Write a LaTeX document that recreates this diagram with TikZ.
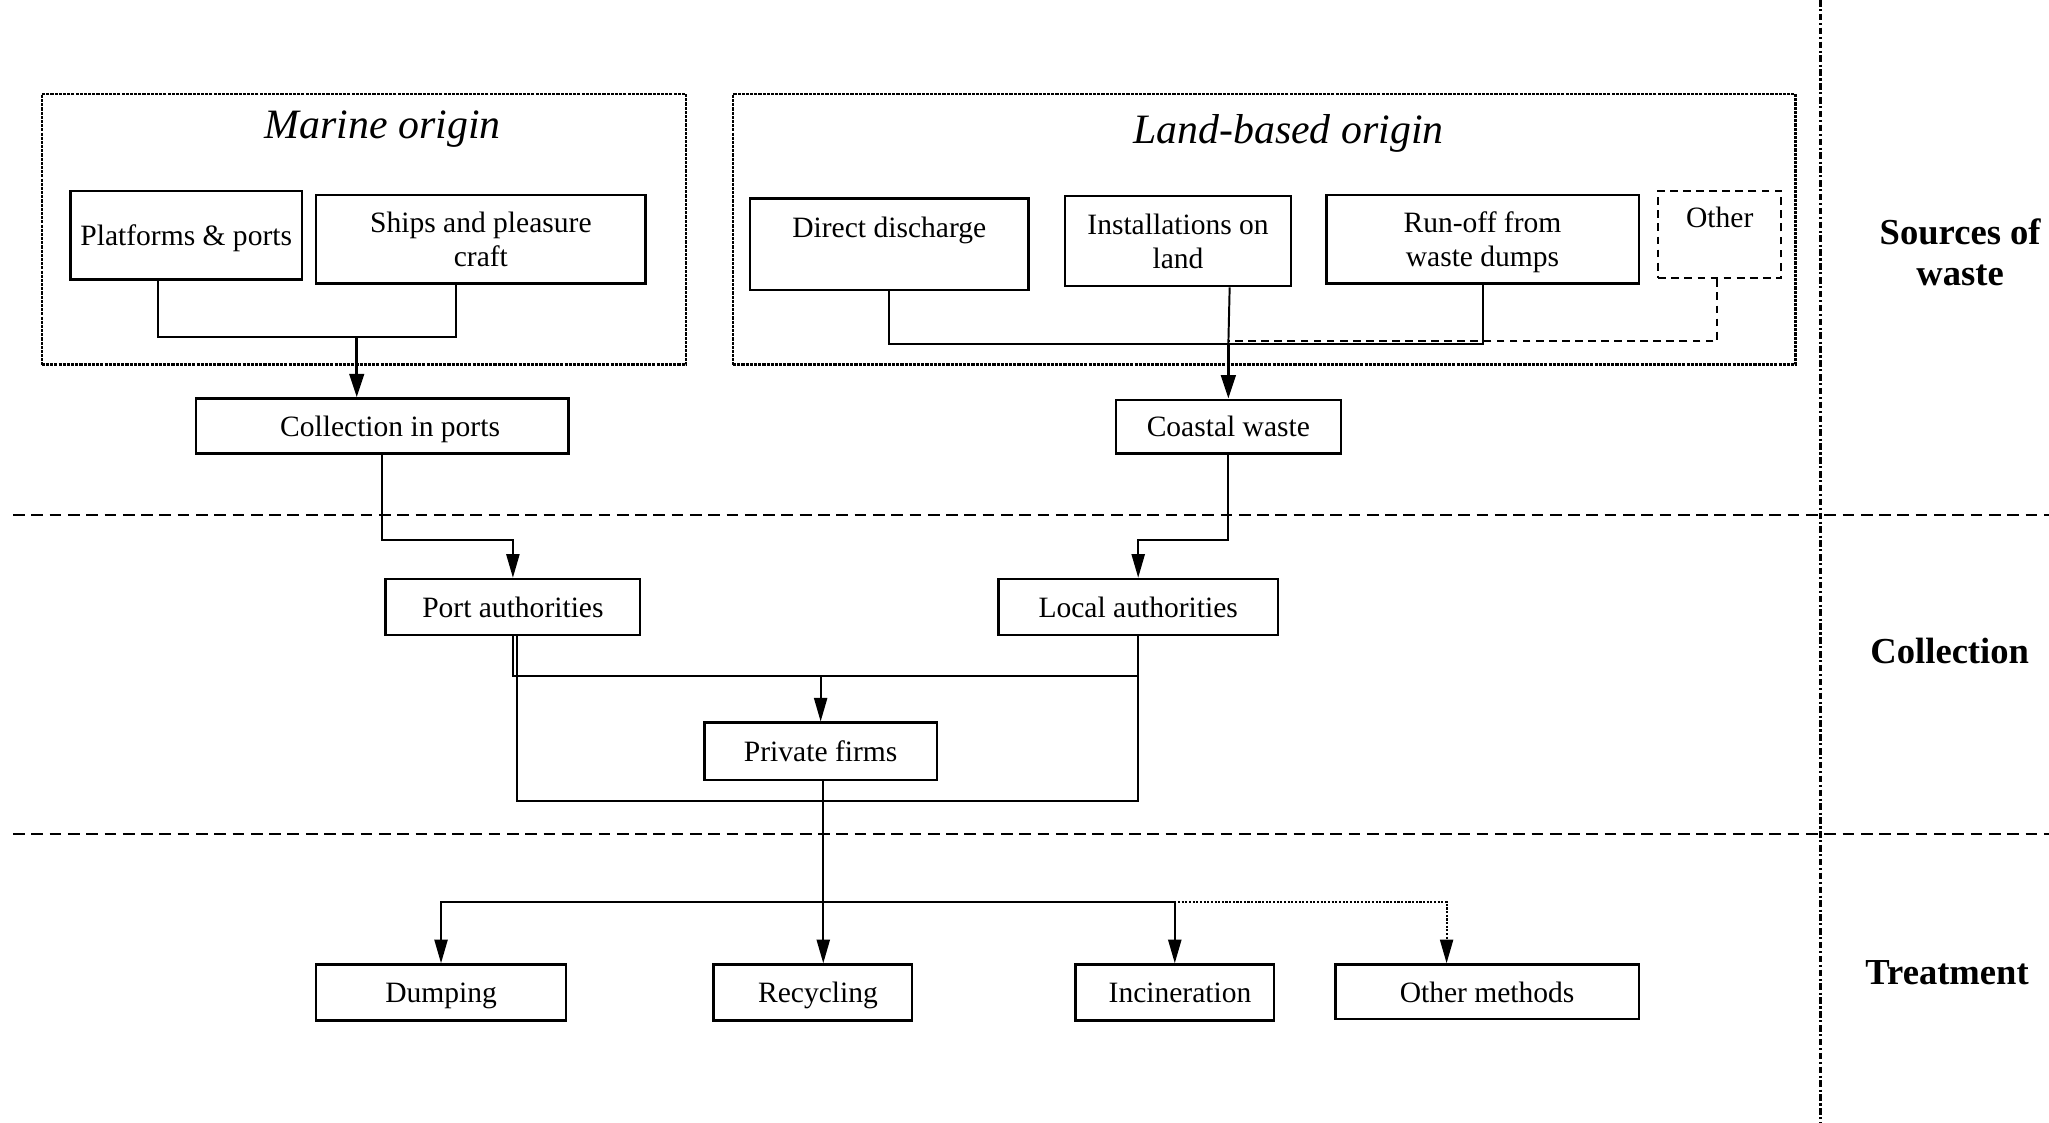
\documentclass[tikz,border=0pt]{standalone}
\usepackage{fontspec}
\setmainfont{Liberation Serif}
\usetikzlibrary{arrows.meta,calc}
\tikzset{
  box/.style={draw, line width=0.9pt, inner sep=0pt, align=center, text depth=0pt, font=\fontsize{11.3}{13}\selectfont},
  dbox/.style={box, dashed, dash pattern=on 3pt off 2pt, line width=0.8pt},
  group/.style={draw, line width=0.9pt, dash pattern=on 1.2pt off 0.4pt, inner sep=0pt},
  title/.style={font=\fontsize{16}{19}\selectfont\itshape, inner sep=0pt},
  lane/.style={font=\fontsize{14}{16}\selectfont\bfseries, align=center, inner sep=0pt},
  conn/.style={line width=0.75pt},
  dconn/.style={line width=0.75pt, dash pattern=on 3pt off 2pt},
  arr/.style={line width=0.75pt, -{Triangle[length=9pt,width=5pt]}},
  tarr/.style={line width=1.3pt, -{Triangle[length=9pt,width=5.5pt]}},
  darr/.style={line width=0.7pt, dash pattern=on 0.8pt off 0.6pt, -{Triangle[length=9pt,width=5pt]}},
  sep/.style={line width=0.9pt, dash pattern=on 4.5pt off 2.5pt},
  vsep/.style={line width=1.4pt, dash pattern=on 2.5pt off 1pt on 0.8pt off 1pt},
}
\begin{document}
\begin{tikzpicture}[x=0.5pt,y=-0.5pt]
\useasboundingbox (0,0) rectangle (1568,859);
% groups
\node[group, minimum width={493*0.5pt}, minimum height={207*0.5pt}] (mgrp) at (278.5,175.5) {};
\node[title] (mtit) at (293,99) {Marine origin};
\node[group, minimum width={813*0.5pt}, minimum height={207*0.5pt}] (lgrp) at (967.5,175.5) {};
\node[title] (ltit) at (986,102) {Land-based origin};
% source boxes
\node[box, minimum width={177*0.5pt}, minimum height={68*0.5pt}] (plat) at (142.5,180) {Platforms \& ports};
\node[box, minimum width={252*0.5pt}, minimum height={68*0.5pt}] (ships) at (368,183) {Ships and pleasure\\craft};
\node[box, minimum width={213*0.5pt}, minimum height={70*0.5pt}] (direct) at (680.5,187) {Direct discharge\\\mbox{}};
\node[box, minimum width={173*0.5pt}, minimum height={69*0.5pt}] (inst) at (901.5,184.5) {Installations on\\land};
\node[box, minimum width={239*0.5pt}, minimum height={68*0.5pt}] (runoff) at (1134.5,183) {Run-off from\\waste dumps};
\node[dbox, minimum width={94*0.5pt}, minimum height={67*0.5pt}] (other) at (1316,179.5) {Other\\\mbox{}};
% collection boxes
\node[box, minimum width={285*0.5pt}, minimum height={42*0.5pt}] (colp) at (292.5,326) {\hspace*{6pt}Collection in ports};
\node[box, minimum width={172*0.5pt}, minimum height={41*0.5pt}] (coast) at (940,326.5) {Coastal waste};
\node[box, minimum width={195*0.5pt}, minimum height={43*0.5pt}] (port) at (392.5,464.5) {Port authorities};
\node[box, minimum width={214*0.5pt}, minimum height={43*0.5pt}] (local) at (871,464.5) {Local authorities};
\node[box, minimum width={178*0.5pt}, minimum height={44*0.5pt}] (priv) at (628,575) {Private firms};
% treatment boxes
\node[box, minimum width={191*0.5pt}, minimum height={43*0.5pt}] (dump) at (337.5,759.5) {Dumping};
\node[box, minimum width={152*0.5pt}, minimum height={43*0.5pt}] (recyc) at (622,759.5) {\hspace*{4pt}Recycling};
\node[box, minimum width={152*0.5pt}, minimum height={43*0.5pt}] (incin) at (899,759.5) {\hspace*{4pt}Incineration};
\node[box, minimum width={232*0.5pt}, minimum height={42*0.5pt}] (othm) at (1138,759) {Other methods};
% lane labels
\node[lane] (lsrc) at (1500,193) {Sources of\\waste};
\node[lane] (lcol) at (1492,498) {Collection};
\node[lane] (ltre) at (1490,744) {Treatment};
% separators
\draw[sep] (10,394) -- (1568,394);
\draw[sep] (10,638) -- (1568,638);
\draw[vsep] (1393,0) -- (1393,859);
% junctions
\coordinate (mj) at (273,258);
\coordinate (lj) at (940,263);
\coordinate (lj2) at (940,261);
\coordinate (pj) at (628,517);
\coordinate (pb) at (628,613);
\coordinate (tj) at (630,690);
% marine connectors
\draw[conn] ([xshift=-10.75pt]plat.south) |- (mj) -| ([xshift=-9.5pt]ships.south);
\draw[tarr] (mj) -- (mj |- colp.north);
% land connectors
\draw[conn] (direct.south) |- (lj) -| (runoff.south);
\draw[conn] ([xshift=19.75pt]inst.south) -- (lj);
\draw[dconn] ([xshift=-1pt]other.south) |- (lj2);
\draw[tarr] (lj) -- (coast.north);
% to authorities
\draw[arr] (colp.south) |- ([yshift=14.5pt]port.north) -- (port.north);
\draw[arr] (coast.south) |- ([yshift=14.5pt]local.north) -- (local.north);
% to private firms
\draw[conn] (port.south) |- (pj) -| (local.south);
\draw[arr] (pj) -- (priv.north);
\draw[conn] ([xshift=1.5pt]port.south) |- (pb) -| (local.south);
% treatment
\draw[arr] ([xshift=1pt]priv.south) -- (tj |- recyc.north);
\draw[arr] (tj) -| (dump.north);
\draw[arr] (tj) -| (incin.north);
\draw[darr] ([xshift=-24pt]incin.north |- tj) -| ([xshift=-15.5pt]othm.north);
\end{tikzpicture}
\end{document}
